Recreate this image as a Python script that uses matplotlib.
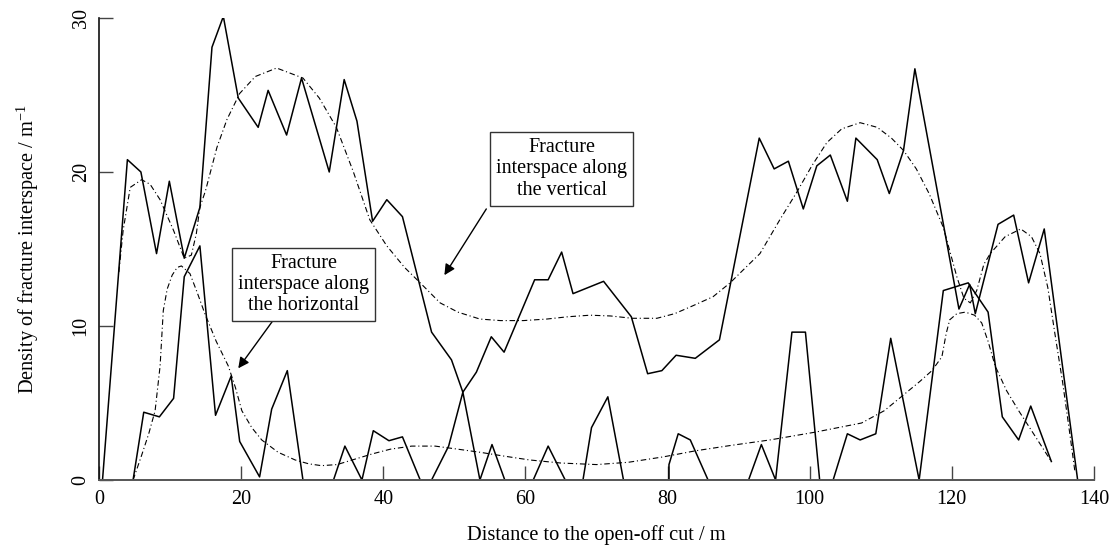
import matplotlib
matplotlib.use("Agg")
import matplotlib.pyplot as plt

plt.rcParams['font.family'] = ['Liberation Serif', 'DejaVu Serif']
plt.rcParams['mathtext.fontset'] = 'custom'
plt.rcParams['mathtext.rm'] = 'Liberation Serif'

# measured densities along the vertical (upper solid line)
vert_x = [0.5, 4.0, 5.9, 8.1, 9.9, 12.0, 14.2, 15.9, 17.5, 19.6, 22.4, 23.8, 26.4, 28.5,
          32.4, 34.5, 36.3, 38.5, 40.5, 42.7, 46.8, 49.6, 51.2, 53.1, 55.2, 57.0, 61.3,
          63.2, 65.1, 66.7, 71.0, 74.9, 77.2, 79.2, 81.2, 83.9, 87.3, 92.9, 95.0, 97.0,
          99.1, 101.0, 102.9, 105.3, 106.5, 109.5, 111.2, 113.2, 114.8, 121.0, 122.5,
          123.3, 126.5, 128.7, 130.8, 133.0, 137.7]
vert_y = [0.0, 20.8, 20.0, 14.7, 19.4, 14.4, 17.7, 28.1, 30.1, 24.8, 22.9, 25.3, 22.4, 26.1,
          20.0, 26.0, 23.3, 16.8, 18.2, 17.1, 9.6, 7.8, 5.7, 7.0, 9.3, 8.3, 13.0,
          13.0, 14.8, 12.1, 12.9, 10.6, 6.9, 7.1, 8.1, 7.9, 9.1, 22.2, 20.2, 20.7,
          17.6, 20.4, 21.1, 18.1, 22.2, 20.8, 18.6, 21.4, 26.7, 11.1, 12.7,
          10.8, 16.6, 17.2, 12.8, 16.3, 0.0]

# measured densities along the horizontal (lower solid line)
horiz_x = [4.8, 6.3, 8.5, 10.5, 12.0, 14.2, 16.4, 18.6, 19.8, 22.6, 24.3, 26.5, 28.7, 33.0,
           34.6, 37.0, 38.6, 40.8, 42.7, 45.2, 46.8, 49.2, 51.2, 53.6, 55.3, 57.1, 61.1,
           63.2, 65.6, 68.1, 69.3, 71.6, 73.8, 80.2, 80.2, 81.5, 83.2, 85.7, 91.4, 93.2,
           95.2, 97.5, 99.4, 101.4, 103.3, 105.3, 107.1, 109.3, 111.4, 115.4, 118.8, 122.3,
           125.1, 127.1, 129.4, 131.1, 134.0]
horiz_y = [0.0, 4.4, 4.1, 5.3, 13.2, 15.2, 4.2, 6.75, 2.5, 0.2, 4.6, 7.1, 0.0, 0.0,
           2.2, 0.0, 3.2, 2.55, 2.8, 0.0, 0.0, 2.2, 5.7, 0.0, 2.3, 0.0, 0.0,
           2.2, 0.0, 0.0, 3.4, 5.4, 0.0, 0.0, 1.0, 3.0, 2.6, 0.0, 0.0, 2.3,
           0.0, 9.6, 9.6, 0.0, 0.0, 3.0, 2.6, 3.0, 9.2, 0.0, 12.3, 12.8,
           10.9, 4.1, 2.6, 4.8, 1.2]

# fitted trend, vertical
vfit_x = [2.8, 3.4, 4.4, 6.0, 7.2, 8.6, 10.5, 12.0, 13.0, 13.7, 14.2, 15.0, 16.6, 18.0,
          19.8, 22.0, 25.0, 28.7, 31.0, 33.4, 35.8, 38.1, 40.5, 43.0, 45.2, 48.0, 50.5,
          53.6, 56.5, 59.7, 63.0, 66.0, 69.1, 72.0, 75.0, 78.5, 81.0, 83.5, 86.4, 88.8,
          91.0, 93.0, 95.8, 98.2, 100.3, 102.4, 104.5, 107.1, 109.5, 111.5, 113.2, 115.0,
          116.8, 118.8, 120.7, 121.7, 122.6, 123.5, 124.5, 125.4, 127.5, 129.7, 131.2,
          132.4, 133.5, 134.5, 135.6, 136.6, 137.3]
vfit_y = [13.5, 16.2, 19.0, 19.5, 19.2, 18.2, 16.2, 14.4, 14.6, 16.0, 17.7, 18.8, 21.6, 23.4,
          25.1, 26.2, 26.75, 26.1, 24.8, 22.9, 20.0, 16.9, 15.2, 13.8, 12.8, 11.5, 10.9,
          10.45, 10.35, 10.35, 10.45, 10.6, 10.7, 10.65, 10.5, 10.5, 10.8, 11.3, 11.9, 12.8,
          13.8, 14.7, 16.9, 18.7, 20.4, 21.9, 22.8, 23.2, 22.9, 22.2, 21.4, 20.2,
          18.6, 16.4, 13.2, 11.8, 11.5, 12.3, 14.0, 14.7, 15.8, 16.3, 15.8,
          14.7, 12.5, 9.5, 6.3, 3.0, 0.6]

# fitted trend, horizontal
hfit_x = [4.8, 6.0, 7.0, 7.9, 8.6, 9.05, 9.6, 10.3, 11.0, 11.6, 12.8, 13.8, 14.9, 16.5,
          18.2, 19.2, 20.1, 21.5, 22.9, 25.2, 27.6, 29.5, 31.3, 33.5, 36.0, 38.5, 41.0,
          44.0, 47.3, 50.5, 53.6, 57.0, 60.6, 65.0, 70.0, 74.5, 79.4, 84.0, 89.0, 94.4,
          100.7, 104.0, 107.3, 110.5, 113.4, 115.5, 117.2, 118.6, 119.2, 119.7, 120.7,
          121.9, 123.2, 124.2, 125.1, 126.1, 127.7, 129.4, 131.5, 134.0]
hfit_y = [0.0, 1.6, 3.0, 4.5, 7.4, 11.0, 12.4, 13.3, 13.8, 13.9, 13.4, 12.2, 10.8, 9.0,
          7.4, 6.0, 4.5, 3.4, 2.6, 1.8, 1.3, 1.05, 0.93, 1.0, 1.35, 1.7, 2.0,
          2.2, 2.2, 2.0, 1.8, 1.55, 1.3, 1.1, 1.0, 1.15, 1.5, 1.9, 2.25, 2.6,
          3.1, 3.4, 3.7, 4.5, 5.6, 6.4, 7.1, 8.0, 9.5, 10.4, 10.8,
          10.9, 10.7, 10.2, 9.0, 7.4, 5.8, 4.5, 3.0, 1.2]

x_ticks = [0, 20, 40, 60, 80, 100, 120, 140]
y_ticks = [0, 10, 20, 30]

fig = plt.figure(figsize=(11.17, 5.45), dpi=100)
ax = fig.add_axes([0.0886, 0.1193, 0.8908, 0.8477])

dashdot = (0, (5, 2.5, 1, 2.5))
ax.plot(vert_x, vert_y, color='k', lw=1.1)
ax.plot(horiz_x, horiz_y, color='k', lw=1.1)
ax.plot(vfit_x, vfit_y, color='k', lw=0.8, linestyle=dashdot)
ax.plot(hfit_x, hfit_y, color='k', lw=0.8, linestyle=dashdot)

ax.set_xlim(0, 140)
ax.set_ylim(0, 30)
ax.set_xticks(x_ticks)
ax.set_yticks(y_ticks)
ax.set_yticklabels([str(v) for v in y_ticks], rotation=90, va='center')
ax.tick_params(direction='in', length=10, width=1.0, color='#444444',
               labelsize=14.5, pad=7)
ax.tick_params(axis='y', pad=6)
for side in ('top', 'right'):
    ax.spines[side].set_visible(False)
ax.spines['left'].set_color('#111111')
ax.spines['bottom'].set_color('#555555')
ax.spines['left'].set_linewidth(1.2)
ax.spines['bottom'].set_linewidth(1.4)

ax.set_xlabel('Distance to the open-off cut / m', fontsize=14.7, labelpad=12)
ax.set_ylabel('Density of fracture interspace / m$^{-1}$', fontsize=14.7, labelpad=22)

box = dict(boxstyle='square,pad=0.3', fc='white', ec='#333333', lw=1.0)
ax.text(65.1, 20.2, 'Fracture\ninterspace along\nthe vertical', ha='center', va='center',
        fontsize=14.5, linespacing=1.15, bbox=box, zorder=5)
ax.text(28.8, 12.7, 'Fracture\ninterspace along\nthe horizontal', ha='center', va='center',
        fontsize=14.5, linespacing=1.15, bbox=box, zorder=5)

arrow = dict(arrowstyle='-|>', color='k', lw=1.0, mutation_scale=16, shrinkA=0, shrinkB=0)
ax.annotate('', xy=(48.6, 13.3), xytext=(54.5, 17.6), arrowprops=arrow)
ax.annotate('', xy=(19.6, 7.25), xytext=(24.4, 10.3), arrowprops=arrow)

fig.savefig('out.png', dpi=100)
